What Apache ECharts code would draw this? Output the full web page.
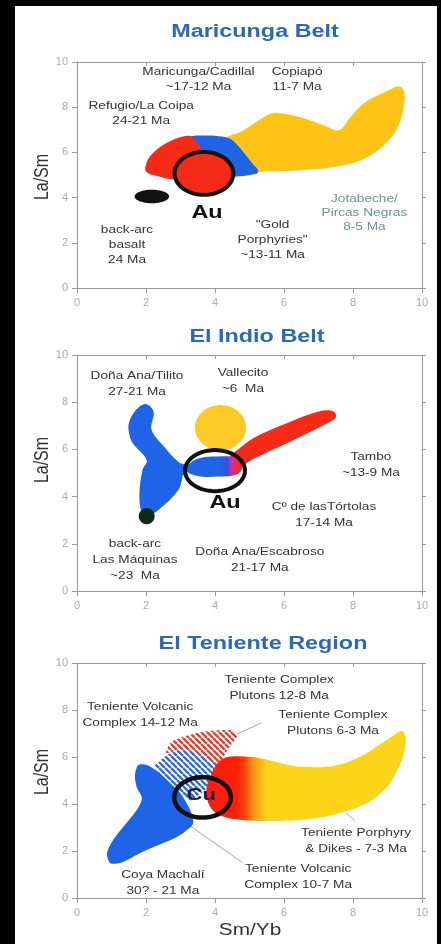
<!DOCTYPE html>
<html><head><meta charset="utf-8">
<script src="https://cdn.jsdelivr.net/npm/echarts@6.0.0/dist/echarts.min.js"></script>
<style>
html,body{margin:0;padding:0;background:#000;width:441px;height:944px;overflow:hidden}
#c{position:absolute;left:15px;top:6px;width:422px;height:938px;background:#fff}
</style></head>
<body><div id="c"></div>
<script>
// ---------- axis ----------
const AXIS_MIN = 0, AXIS_MAX = 10, AXIS_STEP = 2;
const panelTitles = ['Maricunga Belt', 'El Indio Belt', 'El Teniente Region'];
const yName = 'La/Sm';
const xName = 'Sm/Yb';

// ---------- Panel 1: Maricunga Belt (Sm/Yb, La/Sm) ----------
const mariYellow = [[4.2,6.5],[4.8,6.95],[5.2,7.35],[5.65,7.72],[6.2,7.65],[6.7,7.45],[7.15,7.2],[7.6,6.98],[7.9,7.5],[8.3,8.15],[8.9,8.65],[9.38,8.9],[9.5,8.3],[9.2,6.85],[8.43,5.8],[7.46,5.35],[6.4,5.2],[5.4,5.16],[4.9,5.1],[4.5,5.6]];
const mariBlue = [[3.0,6.6],[3.3,6.72],[3.7,6.75],[4.1,6.72],[4.45,6.6],[4.83,6.0],[5.09,5.5],[5.25,5.2],[5.2,5.05],[4.45,4.92],[3.6,5.0],[3.2,5.6]];
const mariRed = [[2.0,5.15],[2.03,5.6],[2.22,6.0],[2.58,6.4],[2.95,6.65],[3.3,6.72],[3.48,6.42],[3.66,5.95],[3.4,5.1],[2.9,4.8],[2.4,4.92]];
const mariBasalt = [2.17, 4.05, 0.5, 0.3];     // cx, cy, rx, ry
const mariAu = [3.68, 5.07, 0.85, 0.95];
const mariLabels = [
  [3.52, 9.22, 'Maricunga/Cadillal\n~17-12 Ma'],
  [6.38, 9.2, 'Copiapó\n11-7 Ma'],
  [1.86, 7.7, 'Refugio/La Coipa\n24-21 Ma'],
  [1.45, 1.9, 'back-arc\nbasalt\n24 Ma'],
  [5.67, 2.12, '"Gold\nPorphyries"\n~13-11 Ma']
];
const mariLabelsTeal = [[8.33, 3.3, 'Jotabeche/\nPircas Negras\n8-5 Ma']];
const mariOre = [[3.77, 3.32, 'Au']];

// ---------- Panel 2: El Indio Belt ----------
const indioYellow = [4.16, 6.92, 0.74, 0.96];
const indioBlue = [[1.98,7.92],[1.68,7.62],[1.5,7.1],[1.52,6.6],[1.62,6.25],[2.02,5.55],[1.9,5.13],[1.81,4.15],[1.87,3.35],[2.05,3.18],[2.36,3.43],[2.94,4.28],[3.1,5.0],[3.3,5.3],[2.96,5.45],[2.52,6.12],[2.16,6.84],[2.22,7.6]];
const indioRed = [[4.45,5.7],[4.65,5.97],[5.12,6.48],[6.1,7.12],[7.06,7.63],[7.45,7.6],[7.5,7.35],[7.27,7.12],[6.1,6.27],[5.12,5.6],[4.74,5.25],[4.5,5.1]];
const indioInner = [[3.15,5.1],[3.3,5.45],[3.6,5.65],[4.1,5.7],[4.6,5.65],[4.8,5.3],[4.65,4.95],[4.1,4.85],[3.6,4.85]];
const indioBasalt = [2.02, 3.17, 0.23, 0.34];
const indioAu = [4.0, 5.1, 0.87, 0.87];
const indioLabels = [
  [1.74, 8.75, 'Doña Ana/Tilito\n27-21 Ma'],
  [4.81, 8.9, 'Vallecito\n~6  Ma'],
  [8.52, 5.34, 'Tambo\n~13-9 Ma'],
  [7.16, 3.22, 'Cº de lasTórtolas\n17-14 Ma'],
  [1.68, 1.31, 'back-arc\nLas Máquinas\n~23  Ma'],
  [5.3, 1.31, 'Doña Ana/Escabroso\n21-17 Ma']
];
const indioOre = [[4.29, 3.73, 'Au']];

// ---------- Panel 3: El Teniente Region ----------
const teniBlue = [[1.78,5.66],[2.02,5.66],[2.35,5.37],[2.7,4.89],[2.99,4.47],[3.28,3.74],[3.37,3.19],[3.19,2.89],[2.9,2.6],[2.5,2.34],[2.02,2.04],[1.63,1.76],[1.25,1.49],[0.96,1.49],[0.87,1.91],[1.05,2.47],[1.34,3.02],[1.73,3.74],[1.88,4.25],[1.73,4.72],[1.68,5.23]];
const teniRedHatch = [[2.58,6.17],[2.72,6.62],[3.16,6.9],[3.76,7.1],[4.52,7.14],[4.66,6.94],[4.36,6.3],[4.17,5.79],[4.06,5.53],[3.77,5.96],[3.37,6.2],[2.99,6.3]];
const teniBlueHatch = [[2.24,5.6],[2.62,6.1],[2.99,6.3],[3.37,6.2],[3.77,5.96],[4.06,5.53],[3.8,4.72],[3.28,4.15],[2.99,4.4],[2.7,4.89],[2.35,5.37]];
const teniPorphyry = [[3.9,5.3],[4.15,5.85],[4.5,6.02],[5.32,5.95],[6.0,5.7],[6.48,5.58],[7.44,5.62],[8.23,6.02],[8.8,6.55],[9.2,6.95],[9.42,7.1],[9.53,6.8],[9.45,6.0],[9.2,5.2],[9.0,4.74],[8.43,4.05],[7.44,3.54],[6.48,3.32],[5.32,3.28],[4.53,3.36],[4.1,3.55],[3.85,3.9],[3.75,4.6]];
const teniGradientRange = [4.6, 5.5];
const teniCu = [3.64, 4.28, 0.82, 0.86];
const teniLeaders = [
  [[4.6,6.95],[5.35,7.45]],
  [[3.3,3.05],[4.8,1.5]],
  [[7.8,3.62],[8.05,3.3]]
];
const teniLabels = [
  [5.86, 8.94, 'Teniente Complex\nPlutons 12-8 Ma'],
  [1.83, 7.79, 'Teniente Volcanic\nComplex 14-12 Ma'],
  [7.42, 7.45, 'Teniente Complex\nPlutons 6-3 Ma'],
  [8.09, 2.43, 'Teniente Porphyry\n& Dikes - 7-3 Ma'],
  [6.41, 0.89, 'Teniente Volcanic\nComplex 10-7 Ma'],
  [2.49, 0.64, 'Coya Machalí\n30? - 21 Ma']
];
const teniOre = [[3.6, 4.35, 'Cu']];

// ---------- styling / helpers ----------
const RED = '#f52a17', BLUE = '#1f64e6', YEL1 = '#fdc416', YEL2 = '#fdca28', YEL3 = '#fcd418';
const FONT = 'Arial, "Liberation Sans", sans-serif';
const SX = 1.3;

function hatch(color) {
  const s = 6, c = document.createElement('canvas');
  c.width = c.height = s;
  const g = c.getContext('2d');
  g.fillStyle = '#fff'; g.fillRect(0, 0, s, s);
  g.strokeStyle = color; g.lineWidth = 2.3;
  g.beginPath();
  for (const o of [-s, 0, s]) { g.moveTo(o, 0); g.lineTo(o + s, s); }
  g.stroke();
  return { image: c, repeat: 'repeat' };
}

function poly(p, pts, fill, smooth) {
  return {
    type: 'custom', xAxisIndex: 2 * p, yAxisIndex: 2 * p, data: pts, silent: true,
    renderItem: (params, api) => {
      if (params.dataIndex !== 0) return null;
      const c = pts.map(q => api.coord(q));
      return { type: 'polygon', shape: { points: c, smooth: smooth == null ? 0.35 : smooth },
        style: { fill: typeof fill === 'function' ? fill(api) : fill } };
    }
  };
}

function ell(p, e, fill, stroke, lw) {
  return {
    type: 'custom', xAxisIndex: 2 * p, yAxisIndex: 2 * p, data: [[e[0], e[1]]], silent: true,
    renderItem: (params, api) => {
      const c = api.coord([e[0], e[1]]);
      const s = api.size([e[2], e[3]], [e[0], e[1]]);
      const pts = [];
      for (let k = 0; k < 90; k++) {
        const a = k / 90 * Math.PI * 2;
        pts.push([c[0] + s[0] * Math.cos(a), c[1] + s[1] * Math.sin(a)]);
      }
      return { type: 'polygon', shape: { points: pts },
        style: { fill: fill || 'none', stroke: stroke || null, lineWidth: lw || 0 } };
    }
  };
}

function texts(p, arr, color, size, weight, lh) {
  return {
    type: 'custom', xAxisIndex: 2 * p, yAxisIndex: 2 * p, silent: true,
    data: arr.map(a => [a[0], a[1]]),
    renderItem: (params, api) => {
      const a = arr[params.dataIndex];
      const c = api.coord([a[0], a[1]]);
      return { type: 'text', x: c[0], y: c[1], scaleX: SX,
        style: { text: a[2], fill: color, fontSize: size, fontFamily: FONT, fontWeight: weight,
          align: 'center', verticalAlign: 'middle', lineHeight: lh } };
    }
  };
}

function leaders(p, list) {
  return list.map(l => ({
    type: 'line', xAxisIndex: 2 * p, yAxisIndex: 2 * p, data: l, symbol: 'none', silent: true,
    lineStyle: { color: '#a8a8a8', width: 1 }, z: 1
  }));
}

// ---------- layout ----------
const grids = [
  { left: 62, top: 56, width: 345, height: 226 },
  { left: 62, top: 349, width: 345, height: 236 },
  { left: 62, top: 657, width: 345, height: 235 }
].map(g => Object.assign(g, { containLabel: false, outerBoundsMode: 'none' }));

const axisCol = '#9a9a9a';
const xAxes = [], yAxes = [];
for (let i = 0; i < 3; i++) {
  const base = { gridIndex: i, type: 'value', min: AXIS_MIN, max: AXIS_MAX, interval: AXIS_STEP,
    splitLine: { show: false },
    axisLine: { show: true, onZero: false, lineStyle: { color: axisCol, width: 1 } } };
  xAxes.push(Object.assign({}, base, { position: 'bottom',
    axisTick: { show: true, length: 5, lineStyle: { color: axisCol } },
    axisLabel: { color: '#aaaaaa', fontSize: 11, margin: 9, fontFamily: FONT } }));
  xAxes.push(Object.assign({}, base, { position: 'top',
    axisTick: { show: true, inside: true, length: 4, lineStyle: { color: axisCol } },
    axisLabel: { show: false } }));
  yAxes.push(Object.assign({}, base, { position: 'left',
    axisTick: { show: true, length: 5, lineStyle: { color: axisCol } },
    axisLabel: { color: '#aaaaaa', fontSize: 11, margin: 9, fontFamily: FONT } }));
  yAxes.push(Object.assign({}, base, { position: 'right',
    axisTick: { show: true, length: 4, lineStyle: { color: axisCol } },
    axisLabel: { show: false } }));
}

// ---------- series ----------
const series = [];
// Panel 1
series.push(poly(0, mariYellow, YEL1));
series.push(poly(0, mariBlue, BLUE));
series.push(poly(0, mariRed, RED));
series.push(ell(0, mariBasalt, '#111'));
series.push(ell(0, mariAu, RED, '#111', 4));
series.push(texts(0, mariLabels, '#333', 10.5, 'normal', 15));
series.push(texts(0, mariLabelsTeal, '#6a9494', 10.5, 'normal', 14));
series.push(texts(0, mariOre, '#111', 18, 'bold', 20));
// Panel 2
series.push(ell(1, indioYellow, YEL2));
series.push(poly(1, indioBlue, BLUE));
series.push(poly(1, indioRed, RED));
series.push(poly(1, indioInner, api => {
  const a = api.coord([4.2, 5])[0], b = api.coord([4.7, 5])[0];
  return new echarts.graphic.LinearGradient(a, 0, b, 0, [
    { offset: 0, color: BLUE }, { offset: 0.3, color: '#3a50e0' },
    { offset: 0.6, color: '#e02a9a' }, { offset: 1, color: RED }], true);
}));
series.push(ell(1, indioBasalt, '#0c2a18'));
series.push(ell(1, indioAu, null, '#111', 4));
series.push(texts(1, indioLabels, '#333', 10.5, 'normal', 16));
series.push(texts(1, indioOre, '#111', 18, 'bold', 20));
// Panel 3
leaders(2, teniLeaders).forEach(s => series.push(s));
series.push(poly(2, teniRedHatch, hatch('#ee3b2c'), 0.2));
series.push(poly(2, teniBlueHatch, hatch('#2f6be0'), 0.2));
series.push(poly(2, teniBlue, BLUE, 0.3));
series.push(poly(2, teniPorphyry, api => {
  const a = api.coord([teniGradientRange[0], 5])[0], b = api.coord([teniGradientRange[1], 5])[0];
  return new echarts.graphic.LinearGradient(a, 0, b, 0, [
    { offset: 0, color: '#ff1e0a' }, { offset: 0.25, color: '#ff3a08' },
    { offset: 0.6, color: '#ff9a12' }, { offset: 1, color: YEL3 }], true);
}));
series.push(ell(2, teniCu, null, '#111', 4.5));
series.push(texts(2, teniLabels, '#333', 10.5, 'normal', 16));
series.push(texts(2, teniOre, '#1c1c40', 17, 'bold', 20));

// ---------- titles & axis names ----------
const titleCol = '#2a68b8';
const graphic = [
  { type: 'text', x: 240, y: 26, scaleX: SX, style: { text: panelTitles[0], fill: titleCol, fontSize: 18, fontWeight: 'bold', fontFamily: FONT, align: 'center', verticalAlign: 'middle' } },
  { type: 'text', x: 242, y: 331, scaleX: SX, style: { text: panelTitles[1], fill: titleCol, fontSize: 18, fontWeight: 'bold', fontFamily: FONT, align: 'center', verticalAlign: 'middle' } },
  { type: 'text', x: 248, y: 638, scaleX: SX, style: { text: panelTitles[2], fill: titleCol, fontSize: 18, fontWeight: 'bold', fontFamily: FONT, align: 'center', verticalAlign: 'middle' } },
  { type: 'text', x: 235, y: 925, scaleX: SX, style: { text: xName, fill: '#333', fontSize: 16, fontFamily: FONT, align: 'center', verticalAlign: 'middle' } }
];
[171, 454, 766].forEach(y => graphic.push({
  type: 'text', x: 27, y: y, rotation: Math.PI / 2, scaleY: SX,
  style: { text: yName, fill: '#333', fontSize: 16, fontFamily: FONT, align: 'center', verticalAlign: 'middle' }
}));

const chart = echarts.init(document.getElementById('c'), null, { renderer: 'canvas' });
chart.setOption({
  animation: false,
  backgroundColor: '#fff',
  grid: grids,
  xAxis: xAxes,
  yAxis: yAxes,
  series: series,
  graphic: graphic
});
</script>
</body></html>
